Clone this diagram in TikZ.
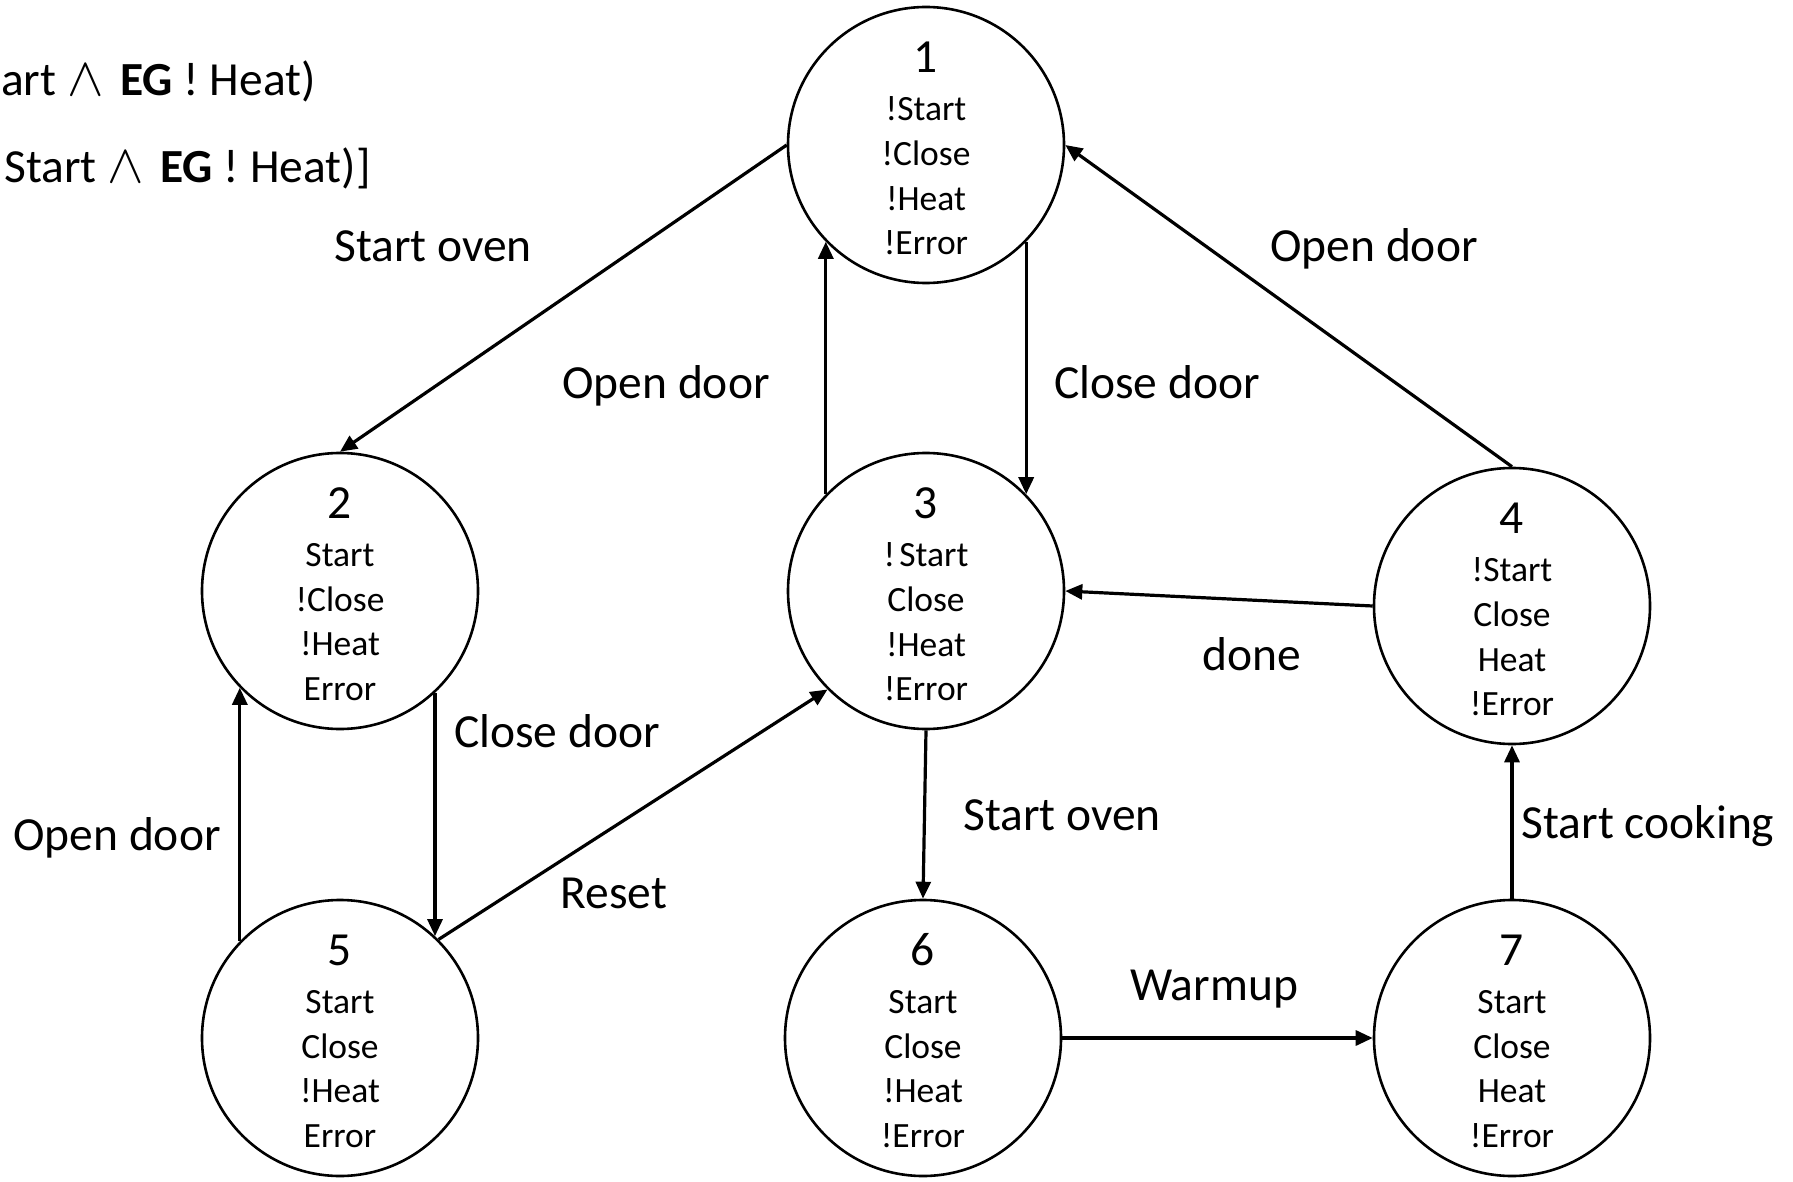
\documentclass[tikz,border=0pt]{standalone}
\usepackage{fontspec}
\setmainfont{Carlito}
\usetikzlibrary{arrows.meta,calc}
\tikzset{
  state/.style={draw,circle,line width=2.6pt,minimum size=276pt,inner sep=0pt},
  num/.style={font=\fontsize{47.5}{57}\selectfont,inner sep=0pt},
  props/.style={font=\fontsize{35.5}{44.6}\selectfont,align=center,inner sep=0pt},
  arr/.style={line width=3.2pt,-{Triangle[length=17pt,width=15pt]}},
  lbl/.style={font=\fontsize{47.5}{57}\selectfont,inner sep=0pt,text height=0.64em,text depth=0pt,yshift=-11pt},
  formula/.style={font=\fontsize{47.5}{57}\selectfont,inner sep=0pt,anchor=west,text height=0.64em,text depth=0pt,yshift=-10pt}
}
\newcommand{\andsym}{\scalebox{2.2}{$\wedge$}}
\begin{document}
\begin{tikzpicture}[x=1pt,y=-1pt]
\clip (0,0) rectangle (1793,1182);
% formula fragments
\node[formula] (f1) at (1,82) {art \andsym\hspace{0.35em}\textbf{EG} ! Heat)};
\node[formula] (f2) at (4,169) {Start \andsym\hspace{0.35em}\textbf{EG} ! Heat)]};
% states
\node[state] (s1) at (926,145) {};
\node[state] (s2) at (340,591) {};
\node[state] (s3) at (926,591) {};
\node[state] (s4) at (1512,606) {};
\node[state] (s5) at (340,1038) {};
\node[state] (s6) at (923,1038) {};
\node[state] (s7) at (1512,1038) {};
% numbers
\node[num] (n1) at ($(s1)+(0,-88)$) {1};
\node[num] (n2) at ($(s2)+(0,-88)$) {2};
\node[num] (n3) at ($(s3)+(0,-88)$) {3};
\node[num] (n4) at ($(s4)+(0,-88)$) {4};
\node[num] (n5) at ($(s5)+(0,-88)$) {5};
\node[num] (n6) at ($(s6)+(0,-88)$) {6};
\node[num] (n7) at ($(s7)+(0,-88)$) {7};
% properties
\node[props] (p1) at ($(s1)+(0,31)$) {!Start\\!Close\\!Heat\\!Error};
\node[props] (p2) at ($(s2)+(0,31)$) {Start\\!Close\\!Heat\\Error};
\node[props] (p3) at ($(s3)+(0,31)$) {!\kern0.12em Start\\Close\\!Heat\\!Error};
\node[props] (p4) at ($(s4)+(0,31)$) {!Start\\Close\\Heat\\!Error};
\node[props] (p5) at ($(s5)+(0,31)$) {Start\\Close\\!Heat\\Error};
\node[props] (p6) at ($(s6)+(0,31)$) {Start\\Close\\!Heat\\!Error};
\node[props] (p7) at ($(s7)+(0,31)$) {Start\\Close\\Heat\\!Error};
% edges
\draw[arr] (s1.west) -- (s2.north);
\draw[arr] (s3.136) -- (s1.224);
\draw[arr] (s1.-44) -- (s3.44);
\draw[arr] (s4.north) -- (s1.east);
\draw[arr] (s4.west) -- (s3.east);
\draw[arr] (s2.-47) -- (s5.47);
\draw[arr] (s5.136) -- (s2.224);
\draw[arr] (s5.45) -- (s3.225);
\draw[arr] (s3.south) -- (s6.north);
\draw[arr] (s6.east) -- (s7.west);
\draw[arr] (s7.north) -- (s4.south);
% labels
\node[lbl] (l1) at (433,247) {Start oven};
\node[lbl] (l2) at (666,384) {Open door};
\node[lbl] (l3) at (1157,384) {Close door};
\node[lbl] (l4) at (1374,247) {Open door};
\node[lbl] (l5) at (1252,656) {done};
\node[lbl] (l6) at (557,733) {Close door};
\node[lbl] (l7) at (117,836) {Open door};
\node[lbl] (l8) at (614,894) {Reset};
\node[lbl] (l9) at (1062,816) {Start oven};
\node[lbl] (l10) at (1214,986) {Warmup};
\node[lbl] (l11) at (1648,824) {Start cooking};
\end{tikzpicture}
\end{document}
